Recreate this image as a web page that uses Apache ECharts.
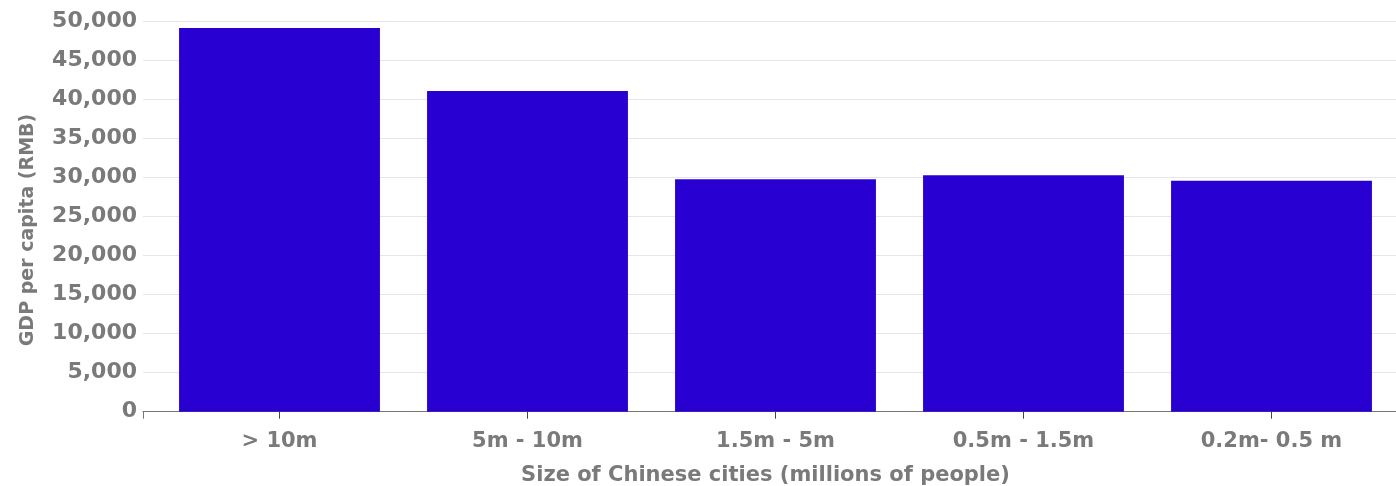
<!DOCTYPE html>
<html>
<head>
<meta charset="utf-8">
<script src="https://cdn.jsdelivr.net/npm/echarts@6/dist/echarts.min.js"></script>
<style>
html,body{margin:0;padding:0;background:#fff;}
#chart{width:1396px;height:486px;}
</style>
</head>
<body>
<div id="chart"></div>
<script>
const categories = ['> 10m', '5m - 10m', '1.5m - 5m', '0.5m - 1.5m', '0.2m- 0.5 m'];
const gdpPerCapita = [49200, 41100, 29800, 30300, 29600];
const yTicks = [0, 5000, 10000, 15000, 20000, 25000, 30000, 35000, 40000, 45000, 50000];
const yTitle = 'GDP per capita (RMB)';
const xTitle = 'Size of Chinese cities (millions of people)';

const FONT = '"DejaVu Sans", sans-serif';
const GRAY = '#7a7a7a';
const yMin = yTicks[0], yMax = yTicks[yTicks.length - 1], yStep = yTicks[1] - yTicks[0];

const chart = echarts.init(document.getElementById('chart'), null, {renderer: 'canvas'});
chart.setOption({
  animation: false,
  backgroundColor: '#ffffff',
  grid: [
    {left: 143, right: -12, top: 21.7, bottom: 74.3, containLabel: false, outerBoundsMode: 'none'},
    {left: 155.5, right: 0.5, top: 21.7, bottom: 74.3, containLabel: false, outerBoundsMode: 'none'}
  ],
  xAxis: [
    {
      gridIndex: 0, type: 'value', min: 0, max: 1, interval: 1,
      axisLine: {show: true, lineStyle: {color: '#777', width: 1}},
      axisTick: {show: true, length: 7, lineStyle: {color: '#777'}},
      axisLabel: {show: false},
      splitLine: {show: false}
    },
    {
      gridIndex: 1, type: 'category', data: categories,
      axisLine: {show: false},
      axisTick: {show: true, alignWithLabel: true, length: 7, lineStyle: {color: '#444'}},
      axisLabel: {margin: 19, color: GRAY, fontFamily: FONT, fontWeight: 'bold', fontSize: 21},
      name: xTitle, nameLocation: 'middle', nameGap: 53,
      nameTextStyle: {color: GRAY, fontFamily: FONT, fontWeight: 'bold', fontSize: 21, padding: [0, 20, 0, 0]}
    }
  ],
  yAxis: [
    {
      gridIndex: 0, type: 'value', min: yMin, max: yMax, interval: yStep,
      axisLine: {show: false}, axisTick: {show: false},
      axisLabel: {margin: 6, color: GRAY, fontFamily: FONT, fontWeight: 'bold', fontSize: 22,
        formatter: v => v.toLocaleString('en-US')},
      splitLine: {show: true, lineStyle: {color: '#e6e6e6', width: 1}}
    },
    {
      gridIndex: 1, type: 'value', min: yMin, max: yMax, interval: yStep,
      axisLine: {show: false}, axisTick: {show: false}, axisLabel: {show: false},
      splitLine: {show: false}
    }
  ],
  series: [{
    type: 'bar', xAxisIndex: 1, yAxisIndex: 1,
    data: gdpPerCapita,
    barCategoryGap: '19%',
    itemStyle: {color: '#2800d2'}
  }],
  graphic: [{
    type: 'text', x: 28, y: 230, rotation: Math.PI / 2,
    style: {text: yTitle, fill: GRAY, font: 'bold 19px ' + FONT, textAlign: 'center', textVerticalAlign: 'middle'}
  }]
});
</script>
</body>
</html>
